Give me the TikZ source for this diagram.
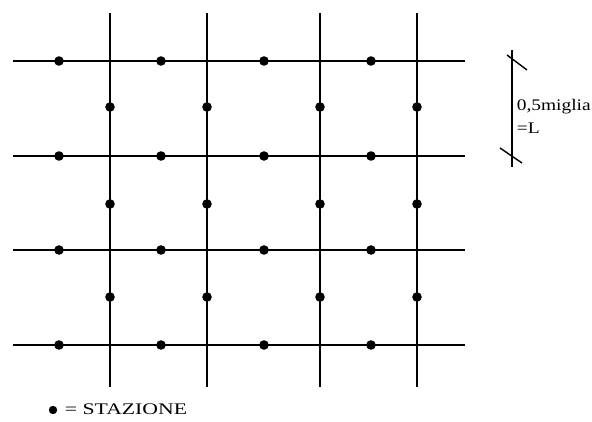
\documentclass[tikz,border=0pt]{standalone}
\usepackage{fontspec}
\setmainfont{Liberation Serif}
\tikzset{
  stazione/.style={circle, fill=black, inner sep=0pt, minimum size=0.24cm},
  testo/.style={font=\fontsize{11.5}{13}\selectfont, inner sep=0pt, xscale=1.2, transform shape},
}
\begin{document}
\begin{tikzpicture}[x=0.025cm, y=-0.025cm, line width=1pt]
  \useasboundingbox (0,0) rectangle (592,421);

  % strade orizzontali e verticali
  \foreach \y in {61,156,250,345}
    \draw (13,\y) -- (465,\y);
  \foreach \x in {110,207,320,417}
    \draw (\x,13) -- (\x,387);

  % stazioni sulle strade orizzontali
  \foreach \y [count=\i] in {61,156,250,345}
    \foreach \x [count=\j] in {59,161,264,371}
      \node[stazione] (h\i\j) at (\x,\y) {};
  % stazioni sulle strade verticali
  \foreach \y [count=\i] in {107,204,297}
    \foreach \x [count=\j] in {110,207,320,417}
      \node[stazione] (v\i\j) at (\x,\y) {};

  % scala
  \draw (512,50) -- (512,167);
  \draw (507,55) -- (527,70);
  \draw (500,148) -- (522,163);
  \node[testo, anchor=base west] (miglia) at (516,110) {0,5miglia};
  \node[testo, anchor=base west] (elle) at (516,133) {=L};

  % legenda
  \node[stazione, minimum size=0.21cm] (leg) at (53,410) {};
  \node[testo, xscale=1.12, anchor=base west] (legtxt) at (64,414) {= STAZIONE};
\end{tikzpicture}
\end{document}
